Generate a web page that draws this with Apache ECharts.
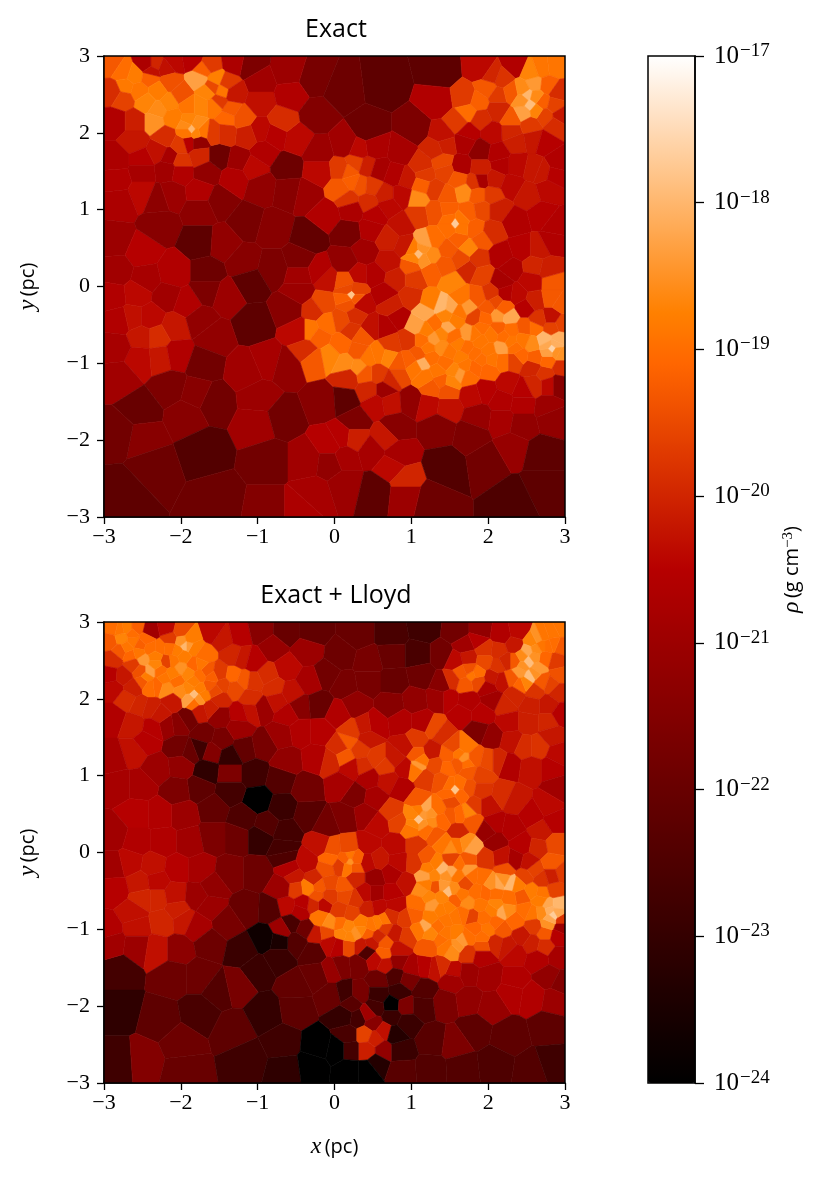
<!DOCTYPE html>
<html>
<head>
<meta charset="utf-8">
<script src="https://cdn.jsdelivr.net/npm/echarts@6/dist/echarts.min.js"></script>
<style>
html,body{margin:0;padding:0;background:#fff}
#chart{width:830px;height:1178px}
</style>
</head>
<body>
<div id="chart"></div>
<script>
// cell centres: x (pc), y (pc), log10 rho
var exactCells=[
[-2.9,2.9,-19.3],[-2.75,2.8,-19.0],[-2.6,2.75,-18.8],[-2.72,2.6,-18.85],[-2.55,2.55,-18.9],[-2.4,2.72,-19.2],[-2.33,2.9,-20.0],[-2.2,2.85,-20.3],[-2.15,2.66,-19.4],[-2.3,2.55,-18.8],[-2.45,2.4,-18.7],[-2.3,2.3,-18.6],[-2.35,2.15,-18.5],[-2.15,2.4,-18.7],[-2.1,2.2,-18.8],[-2.0,2.5,-19.4],[-1.9,2.35,-18.9],[-1.9,2.15,-18.7],[-1.75,2.35,-18.7],[-1.75,2.7,-18.3],[-1.65,2.55,-18.7],[-1.55,2.7,-18.75],[-1.45,2.55,-18.9],[-1.55,2.35,-18.9],[-1.4,2.2,-19.1],[-1.72,2.02,-18.9],[-1.86,2.05,-18.0],
[-2.88,2.53,-19.9],[-2.75,2.45,-19.6],[-2.85,2.15,-20.6],[-2.6,2.15,-20.1],[-2.6,1.9,-20.2],[-2.85,1.65,-20.7],[-2.5,1.65,-20.5],[-2.3,1.75,-20.3],[-2.15,1.68,-20.8],[-2.2,1.95,-19.9],[-2.0,1.85,-19.7],[-2.0,1.62,-19.8],[-1.9,1.88,-20.5],[-1.77,1.88,-21.2],[-1.75,1.7,-20.0],[-2.18,1.53,-20.9],[-2.0,1.5,-20.6],[-2.5,1.5,-20.8],[-2.83,1.4,-20.6],[-1.66,1.49,-21.2],[-1.5,1.7,-21.9],[-1.25,1.65,-21.0],[-1.05,1.55,-20.4],[-0.92,1.75,-20.6],[-0.62,1.55,-21.9],[-0.49,1.92,-20.4],[-0.2,1.75,-21.0],[-0.97,2.03,-20.4],[-1.14,1.97,-20.1],[-0.77,1.97,-20.5],[-1.57,2.0,-19.7],[-1.42,2.0,-19.9],[-1.36,2.3,-19.3],[-1.2,2.2,-19.4],[-1.5,2.4,-19.7],[-1.6,2.6,-19.5],[-1.7,2.82,-19.2],[-2.1,2.93,-20.4],[-1.85,2.97,-20.5],[-1.62,2.88,-19.7],[-1.4,2.64,-19.7],[-2.45,2.9,-20.7],[-2.38,2.8,-20.3],
[-0.27,2.7,-21.7],[-0.6,2.8,-21.0],[-1.1,2.88,-21.6],[-1.3,2.92,-20.7],[-0.97,2.66,-20.9],[-1.32,2.52,-20.2],[-0.97,2.4,-20.3],[-0.68,2.16,-19.9],[-0.57,2.49,-20.6],[-0.23,2.23,-21.5],
[-2.5,1.22,-20.4],[-2.8,1.1,-20.7],[-2.3,1.14,-21.3],[-2.12,1.2,-21.0],[-1.75,1.23,-20.6],[-1.49,1.12,-21.5],[-1.3,1.4,-20.6],[-0.95,1.3,-21.2],[-0.6,1.25,-21.4],[-0.36,1.2,-21.0],[-0.2,1.5,-20.4],[-2.85,0.6,-21.0],[-2.5,0.45,-20.5],[-2.27,0.8,-21.4],[-1.75,1.0,-21.3],[-1.75,0.58,-22.2],[-1.14,0.84,-21.7],[-1.45,0.56,-21.2],[-0.8,0.75,-21.4],[-0.33,0.63,-22.1],[-0.45,0.35,-21.6],[-1.66,0.18,-21.9],[-1.18,0.32,-21.4],[-0.8,0.23,-21.6],[-0.45,0.14,-20.9],[-0.1,0.1,-20.3],[-0.2,0.2,-20.6],[-2.1,0.18,-20.6],[-2.83,0.2,-20.9],[-2.45,0.1,-20.8],[-1.1,0.05,-22.2],[-0.1,0.93,-20.6],
[0.65,2.62,-22.2],[1.39,2.8,-22.2],[0.1,2.55,-21.9],[0.44,2.05,-21.9],[1.05,2.05,-21.6],[1.35,2.4,-20.6],[1.92,2.84,-20.4],[2.35,2.88,-20.6],
[1.7,2.45,-19.7],[1.74,2.27,-19.0],[1.87,2.4,-19.2],[2.0,2.58,-19.3],[2.18,2.7,-19.8],[2.05,2.75,-20.0],[2.13,2.49,-19.7],[2.3,2.53,-19.3],[1.6,2.14,-19.7],[1.9,2.18,-19.9],[2.13,2.29,-20.0],[2.3,2.18,-19.3],[2.5,2.49,-18.0],[2.55,2.36,-17.9],[2.47,2.27,-18.3],[2.6,2.64,-18.4],[2.56,2.79,-18.7],[2.7,2.84,-18.9],[2.87,2.86,-18.9],[2.78,2.62,-19.2],[2.91,2.53,-19.9],[2.7,2.4,-19.2],[2.87,2.36,-19.6],[2.74,2.22,-19.6],[2.95,2.23,-20.2],[2.3,2.01,-20.0],[2.56,2.1,-19.7],[2.87,2.1,-19.9],[2.05,2.0,-20.4],[1.74,2.0,-20.5],[2.35,1.88,-20.1],[2.6,1.92,-20.2],[2.74,1.88,-20.5],[1.9,1.77,-21.3],[1.7,1.88,-20.7],[1.4,1.97,-20.3],[1.65,1.56,-20.7],[2.17,1.58,-20.6],[2.13,1.73,-20.6],[2.37,1.58,-20.4],[2.6,1.53,-20.2],[2.91,1.62,-20.6],[1.44,1.84,-20.1],
[0.18,1.5,-19.3],[0.27,1.62,-19.6],[0.09,1.53,-19.7],[0.22,1.36,-19.2],[0.09,1.27,-19.3],[0.35,1.31,-19.4],[0.48,1.3,-19.7],[0.18,1.14,-19.8],[0.44,1.1,-19.9],[0.66,1.19,-20.1],[0.44,1.57,-20.1],[0.57,1.53,-20.8],[0.87,1.75,-20.8],[0.53,1.8,-20.7],[0.14,1.84,-20.9],[0.31,1.77,-20.4],[0.79,1.45,-20.6],[0.94,1.4,-20.2],
[1.14,1.58,-19.9],[1.4,1.62,-19.5],[1.31,1.79,-20.0],[1.18,1.45,-19.7],[1.44,1.49,-19.6],[1.09,1.14,-18.6],[1.14,1.32,-19.2],[1.31,1.27,-19.7],[1.48,1.19,-19.3],[1.68,1.23,-18.6],[1.61,1.4,-19.3],[1.83,1.36,-19.8],[1.9,1.53,-20.1],[1.9,1.38,-20.8],[1.87,1.19,-19.3],[2.05,1.19,-19.7],[2.09,1.4,-20.2],[2.3,1.32,-20.4],[2.52,1.19,-20.2],[2.78,1.27,-20.4],[2.7,1.49,-20.2],[2.87,1.45,-20.5],[1.09,0.93,-19.7],[1.31,0.97,-19.4],[1.48,1.0,-19.2],[1.57,0.82,-17.7],[1.74,0.97,-19.2],[1.92,1.0,-19.5],[1.83,0.75,-19.2],[2.13,1.0,-20.1],[2.35,0.84,-20.6],[2.7,0.93,-20.5],[2.87,0.8,-20.6],[0.87,1.19,-20.4],[0.7,1.05,-20.4],[0.53,0.93,-20.5],[0.18,0.71,-21.7],[0.22,1.0,-20.7],[0.87,0.8,-20.3],[0.48,0.75,-20.6],[0.4,0.45,-20.9],[0.14,0.32,-21.2],[0.7,0.62,-20.1],[0.92,0.53,-20.2],[1.09,0.42,-17.9],[1.18,0.58,-18.3],[1.0,0.27,-19.3],[1.26,0.41,-18.6],[1.31,0.62,-19.0],[1.48,0.49,-19.3],[1.61,0.62,-19.2],[1.74,0.49,-18.7],[1.92,0.62,-19.3],[2.05,0.71,-19.9],[1.87,0.36,-19.8],[2.17,0.4,-20.6],[2.44,0.49,-20.5],[2.66,0.49,-20.2],[2.83,0.58,-20.6],[2.3,0.23,-20.7],[2.6,0.27,-20.0],[2.83,0.05,-19.3],[2.78,0.23,-20.1],[0.7,0.32,-20.3],[0.31,0.15,-20.4],[0.14,0.06,-19.4],[0.53,0.15,-20.6],[0.79,0.1,-20.1],[1.05,0.1,-19.7],[1.26,0.19,-19.2],[1.53,0.06,-18.7],[1.44,0.27,-19.3],[1.74,0.23,-20],[1.65,0.36,-19.5],[1.92,0.15,-19.6],[2.17,0.06,-20.8],[2.56,0.06,-20.4],
[-2.88,-0.13,-20.6],[-2.57,-0.1,-20.4],[-2.18,-0.13,-20.9],[-1.92,-0.22,-20.6],[-1.66,-0.05,-21.6],[-1.4,-0.13,-21.0],[-1.05,-0.48,-22.2],[-0.58,-0.3,-21.4],[-0.45,-0.07,-21.0],[-0.15,-0.22,-19.5],[-0.27,-0.31,-19.9],[-0.45,-0.57,-20.4],[-0.32,-0.57,-18.9],[-0.1,-0.48,-19.0],[-0.2,-0.66,-19.2],[-0.36,-0.83,-19.9],[-0.06,-0.9,-18.7],[-0.27,-0.94,-19.3],[-2.8,-0.44,-20.6],[-2.62,-0.4,-20.3],[-2.4,-0.4,-20.4],[-2.08,-0.53,-20.2],[-2.31,-0.66,-19.9],[-2.51,-0.66,-20.2],[-2.53,-0.94,-20.4],[-2.27,-0.92,-20.2],[-2.05,-0.88,-20.6],[-2.84,-0.79,-20.8],[-2.8,-1.18,-20.9],[-1.75,-0.44,-21.2],[-1.58,-0.66,-21.2],[-1.71,-1.0,-21.8],[-2.14,-1.31,-21.6],[-2.53,-1.61,-22.0],[-1.58,-1.5,-21.8],[-1.8,-1.4,-21.4],[-1.92,-1.68,-21.4],[-1.14,-1.09,-20.9],[-0.88,-0.98,-20.8],[-0.97,-1.44,-21.0],[-1.0,-1.79,-20.9],[-0.62,-1.05,-21.2],[-0.67,-1.7,-21.8],[-0.14,-1.5,-21.4],[-1.71,-2.13,-22.4],[-2.49,-1.96,-21.4],[-2.8,-1.9,-21.8],[-2.36,-2.35,-21.9],[-2.73,-2.7,-22.2],[-1.53,-2.78,-21.9],[-0.85,-2.26,-21.8],[-0.85,-2.9,-21.5],[-0.36,-2.26,-20.9],[-0.06,-2.05,-20.5],[-0.06,-2.3,-21.2],[-0.27,-2.7,-20.8],[-0.45,-2.9,-20.7],
[0.22,-0.11,-17.8],[0.18,-0.22,-19.4],[0.35,-0.22,-20.4],[0.65,-0.09,-20.6],[0.66,-0.53,-20.6],[0.48,-0.53,-20.3],[0.83,-0.4,-20.6],[0.74,-0.25,-20.1],[1.0,-0.14,-19.9],[0.27,-0.38,-19.9],[0.09,-0.44,-19.5],[0.22,-0.57,-19.8],[0.35,-0.66,-19.3],[0.09,-0.75,-19.1],[0.14,-1.0,-18.6],[0.31,-1.05,-18.6],[0.44,-0.92,-18.9],[0.31,-0.83,-19.3],[0.57,-0.88,-18.9],[0.74,-0.75,-19.7],[0.96,-0.7,-19.8],[0.83,-1.0,-19.3],[0.7,-0.92,-18.7],[0.57,-1.14,-19.7],[0.18,-1.18,-20.0],[0.4,-1.14,-19.3],[0.83,-1.16,-19.5],[0.98,-0.96,-19.2],[0.74,-1.22,-20.0],[0.44,-1.35,-20.0],[0.66,-1.35,-21.0],[0.72,-1.5,-20.3],[0.53,-1.53,-20.4],[0.14,-1.48,-22.2],[1.0,-1.48,-21.2],[1.22,-1.53,-20.4],[1.48,-1.57,-20.3],[1.26,-1.31,-19.3],[1.14,-1.0,-18.1],[1.18,-1.18,-18.9],[1.39,-1.22,-19.2],[1.48,-1.35,-19.4],[1.63,-1.14,-18.4],[1.52,-1.24,-18.7],[1.74,-1.18,-19.0],[1.83,-1.05,-19.1],[2.0,-1.09,-19.1],[2.18,-0.96,-19.0],[2.35,-0.96,-19.6],[2.57,-1.05,-20.0],[2.74,-1.14,-19.8],[2.61,-0.92,-19.2],[2.78,-0.96,-19.1],[2.17,-0.79,-18.3],[2.35,-0.79,-19.0],[2.0,-0.83,-18.9],[1.83,-0.88,-19.0],[1.65,-0.92,-18.8],[1.44,-1.0,-19.0],[1.26,-0.92,-19.0],[1.09,-0.88,-19.3],[1.07,-0.51,-18.3],[1.18,-0.33,-18.2],[1.39,-0.25,-18.0],[1.52,-0.27,-18.2],[1.31,-0.49,-19.0],[1.48,-0.53,-18.2],[1.29,-0.68,-18.4],[1.39,-0.79,-18.6],[1.14,-0.7,-19.0],[1.61,-0.75,-18.8],[1.74,-0.61,-18.4],[1.57,-0.44,-18.8],[1.74,-0.27,-18.4],[1.65,-0.14,-18.9],[1.83,-0.4,-19.6],[1.87,-0.14,-19.3],[1.92,-0.53,-19.0],[2.0,-0.27,-19.3],[2.13,-0.38,-18.4],[2.28,-0.4,-18.2],[2.13,-0.55,-19.2],[2.3,-0.57,-19.0],[2.48,-0.53,-19.3],[2.61,-0.53,-19.0],[2.57,-0.75,-18.6],[2.74,-0.7,-18.0],[2.83,-0.81,-17.6],[2.91,-0.68,-18.1],[2.95,-0.88,-18.5],[2.95,-1.05,-19.9],[2.83,-0.53,-19.6],[2.95,-0.48,-19.6],[2.83,-0.4,-20.3],[2.65,-0.44,-19.8],[2.48,-0.27,-20.5],[2.22,-0.09,-20.6],[2.39,-0.11,-20.4],[2.6,-0.18,-20.1],[2.83,-0.14,-19.3],[2.95,-0.22,-19.3],[2.04,-0.09,-19.8],[2.91,-1.27,-21.4],[2.78,-1.27,-20.4],[2.6,-1.27,-20],[2.44,-1.35,-20.5],[2.26,-1.27,-20.4],[1.96,-1.35,-20.5],[1.79,-1.4,-20.4],[2.18,-1.48,-20.6],[2.44,-1.53,-20.6],[2.78,-1.57,-21.0],[0.27,-1.74,-21.6],[0.79,-1.83,-21.4],[1.35,-1.83,-21.5],[1.87,-1.7,-21.1],[2.18,-1.74,-20.8],[2.44,-1.79,-21.2],[2.83,-1.7,-21.2],[0.09,-1.96,-20.5],[0.27,-1.98,-20.1],[0.66,-1.96,-20.2],[0.48,-2.13,-20.8],[0.83,-2.18,-20.8],[0.14,-2.22,-20.8],[0.74,-2.35,-20.4],[0.92,-2.52,-20.0],[0.14,-2.57,-21.0],[0.53,-2.66,-22.2],[1.44,-2.35,-22.4],[2.0,-2.27,-21.8],[1.79,-1.92,-21.6],[2.31,-2.09,-21.1],[2.7,-2.18,-22.2],[2.7,-2.61,-22.2],[2.35,-2.78,-22.5],[1.26,-2.78,-21.9],[0.92,-2.7,-21.0]
];
// small cells round the densest spots of the top panel
var exactFine=[
[0.17,-0.04,-19.5],[0.28,-0.05,-19.6],[0.28,-0.15,-19.3],[0.16,-0.16,-19.2],
[1.5,0.87,-19.0],[1.64,0.87,-18.9],[1.5,0.76,-19.0],[1.64,0.76,-18.9],
[1.02,0.48,-18.8],[1.16,0.36,-18.5],[1.03,0.37,-18.7],[1.15,0.49,-18.5],
[2.78,-0.86,-18.3],[2.88,-0.75,-18.1],[2.77,-0.76,-18.2],[2.89,-0.85,-18.5],
[-1.8,2.1,-18.6],[-1.92,2.0,-18.9],[-1.92,2.1,-18.6],[-1.8,2.0,-18.7],
[2.45,2.43,-18.5],[2.62,2.46,-18.6],[2.62,2.3,-18.7],[2.45,2.56,-18.6],
[1.25,-0.2,-18.8],[1.45,-0.38,-18.7],[1.62,-0.33,-18.9],[1.4,-0.62,-18.7],[1.55,-0.65,-19.0],[1.2,-0.57,-18.8],[1.22,-0.8,-18.9],[1.5,-0.85,-18.9],[1.72,-0.8,-19.0],[1.9,-0.72,-18.9],[2.05,-0.62,-18.9],[1.82,-0.62,-18.9],[1.95,-0.42,-19.1],[2.2,-0.65,-19.0],[2.3,-0.72,-18.9],[2.45,-0.7,-18.9],[2.42,-0.9,-19.1],[2.05,-0.95,-18.9],[1.7,-1.02,-18.9],[1.35,-1.1,-18.9],[1.55,-1.1,-18.7],[1.05,-1.05,-18.9],[1.9,-0.95,-19.0],[2.1,-0.2,-19.5],[2.2,-0.28,-19.2]
];
var lloydCells=[
[-2.88,2.92,-19.0],[-2.7,2.92,-18.8],[-2.57,2.92,-19.2],[-2.92,2.75,-19.3],[-2.77,2.79,-18.7],[-2.62,2.75,-18.9],[-2.79,2.62,-19.3],[-2.66,2.57,-19.1],[-2.49,2.51,-18.4],[-2.4,2.36,-18.3],[-2.53,2.7,-19.2],[-2.4,2.66,-19.0],[-2.88,2.51,-19.9],[-2.62,2.44,-19.7],[-2.53,2.36,-19.4],[-2.49,2.23,-19.3],[-2.27,2.66,-19.0],[-2.18,2.49,-19.6],[-2.27,2.36,-19.0],[-2.31,2.18,-19.1],[-2.18,2.14,-18.6],[-2.14,2.79,-19.7],[-2.4,2.88,-20.9],[-2.18,2.92,-20.4],[-2,2.88,-19.5],[-1.94,2.7,-18.0],[-2.05,2.62,-18.8],[-1.83,2.66,-18.8],[-1.7,2.57,-19.0],[-2.0,2.4,-18.5],[-1.83,2.44,-19.1],[-1.66,2.36,-19.3],[-2.05,2.23,-19.0],[-1.83,2.23,-18.8],[-1.83,2.05,-17.9],[-2.0,2.1,-18.6],[-1.7,2.05,-18.8],[-1.83,1.95,-19.0],[-1.62,2.18,-19.3],[-1.49,2.33,-19.7],[-1.32,2.3,-19.1],[-1.18,2.25,-19.3],[-1.3,2.14,-19.5],[-1.45,2.18,-19.6],[-1.5,2.0,-20],[-1.32,2.57,-20.0],[-1.45,2.79,-20.2],[-1.58,2.88,-20.4],[-1.23,2.84,-20.5],[-1.2,2.53,-20.2],[-0.97,2.9,-21.4],[-0.62,2.88,-22.0],[-0.28,2.88,-22.1],[-0.8,2.66,-21.1],[-0.36,2.62,-21.0],[-0.62,2.4,-20.4],[-0.88,2.31,-19.9],[-1.05,2.23,-19.8],[-1.09,2.0,-19.9],[-0.79,2.14,-19.9],[-0.56,2.08,-20.3],[-1.05,2.49,-20.5],[-0.1,2.31,-21.8],[-0.33,2.23,-20.8],[-0.45,1.9,-21.4],[-0.2,1.92,-22],[-0.93,1.88,-21.0],[-0.75,1.97,-20.3],[-1.1,1.84,-20.3],[-1.23,1.8,-20.5],[-0.62,1.8,-20.6],[-1.5,1.77,-21.2],[-1.62,1.88,-20.1],[-1.75,1.84,-20.2],[-1.92,1.75,-21.8],[-2.03,1.68,-21.4],[-2.18,1.66,-21.1],[-2.27,1.79,-20.2],[-2.53,1.92,-20.0],[-2.7,2.0,-19.9],[-2.4,1.88,-20.1],[-2.88,2.14,-20.4],[-2.62,2.14,-20.1],[-2.92,2.31,-20.5],[-2.75,2.3,-20.2],[-2.1,1.97,-20.2],[-2.88,1.75,-20.6],[-2.62,1.66,-20.2],[-2.36,1.62,-20.5],[-1.7,1.53,-21.8],[-1.47,1.47,-21.7],[-1.24,1.62,-21.0],[-1.18,1.35,-22.1],[-0.92,1.4,-21.7],[-0.7,1.53,-21.0],[-0.44,1.57,-20.6],[-0.18,1.57,-20.5],[-1.75,1.36,-22.8],[-2.03,1.36,-21.8],[-1.88,1.31,-22.0],[-1.6,1.31,-21.5],[-1.36,1.25,-23.0],[-1.66,1.06,-23.1],[-1.36,1.03,-21.6],[-1.05,1.03,-22.8],[-0.7,0.95,-22.4],[-1.0,0.68,-24.0],[-0.68,0.58,-22.9],[-1.36,0.8,-22.7],[-1.75,0.84,-22.2],[-1.58,0.58,-22.1],[-1.18,0.45,-22.5],[-1.27,0.2,-21.9],[-0.97,0.2,-23],[-0.88,0.36,-22.4],[-0.64,0.27,-22.7],[-0.66,0.05,-22.7],[-0.34,0.49,-22.3],[-0.36,0.84,-21.8],[-0.62,1.19,-21.2],[-0.23,1.23,-20.6],[-0.06,1.19,-20],[-0.1,0.36,-21.8],[-0.18,0.1,-20.3],[-0.03,0.05,-19.4],[-2.62,1.31,-20.3],[-2.45,1.45,-20.5],[-2.88,1.23,-20.8],[-2.31,1.1,-21],[-2.0,1.14,-21.2],[-2.05,0.8,-21.6],[-2.8,0.88,-20.8],[-2.53,0.88,-20.8],[-1.97,0.5,-21],[-2.57,0.5,-20.5],[-2.27,0.5,-20.6],[-2.88,0.23,-20.9],[-2.57,0.14,-20.6],[-2.23,0.14,-20.6],[-1.88,0.14,-20.9],[-1.58,0.2,-21.6],
[0.3,2.84,-22.0],[0.74,2.84,-22.6],[1.17,2.92,-22.8],[1.6,2.88,-21.8],[1.9,2.88,-21.2],[2.17,2.84,-20.6],[2.4,2.88,-20.4],[0.09,2.57,-21.9],[0.44,2.49,-21.7],[0.75,2.57,-22.0],[1.09,2.57,-22.6],[1.4,2.57,-21.8],[0.13,2.18,-21.7],[0.44,2.23,-21.7],[0.77,2.23,-22.0],[1.14,2.31,-21.9],[1.4,2.2,-21.4],[1.7,2.7,-20.9],[1.87,2.77,-20.5],[1.74,2.53,-20.2],[1.57,2.49,-20.4],[1.96,2.64,-19.8],[2.13,2.62,-19.9],[1.96,2.49,-19.5],[1.79,2.31,-18.9],[1.65,2.34,-19.3],[1.87,2.23,-19.5],[1.7,2.2,-19.3],[1.53,2.25,-19.9],[2.05,2.27,-20.2],[2.13,2.44,-19.8],[2.0,2.14,-20.7],[2.35,2.7,-20.2],[2.57,2.75,-18.7],[2.65,2.79,-18.5],[2.83,2.86,-18.9],[2.95,2.92,-18.9],[2.78,2.7,-19.0],[2.95,2.68,-19.3],[2.52,2.62,-18.2],[2.52,2.49,-17.9],[2.55,2.3,-17.9],[2.41,2.36,-18.4],[2.65,2.4,-18.4],[2.74,2.53,-19.1],[2.35,2.49,-19.3],[2.3,2.27,-19.3],[2.43,2.18,-19.1],[2.7,2.23,-19.3],[2.89,2.49,-19.7],[2.93,2.31,-19.4],[2.83,2.18,-19.6],[2.22,2.49,-20],[2.17,2.23,-20.3],[2.6,2.1,-19.8],[2.35,2.05,-20.0],[2.91,2.1,-20],[2.78,1.92,-20.2],[2.22,1.92,-20],[2.05,2.0,-20.9],[2.56,1.92,-20.1],[1.74,1.97,-20.6],[1.48,2.0,-20.5],[1.92,1.8,-20.5],[1.65,1.8,-20.5],[1.35,2.0,-21.0],[1.05,1.97,-21.2],[0.74,1.92,-21.4],[0.27,1.92,-21.2],[0.05,1.8,-20.6],[0.53,1.66,-20.5],[0.87,1.7,-20.6],[1.14,1.7,-20.6],[1.87,1.58,-21.6],[2.05,1.51,-21.2],[2.27,1.7,-20.4],[2.52,1.7,-20.1],[2.78,1.7,-20.0],[2.95,1.8,-20.5],[2.3,1.45,-20.3],[2.48,1.37,-19.9],[2.65,1.37,-19.8],[2.83,1.53,-20.2],[2.91,1.27,-20.4],[2.27,1.14,-20.6],[2.57,1.1,-20.3],[2.83,1.1,-20.5],
[0.18,1.45,-19.3],[0.22,1.58,-19.7],[0.4,1.64,-20.2],[0.07,1.38,-19.9],[0.14,1.25,-19.3],[0.33,1.34,-19.7],[0.44,1.49,-20.2],[0.55,1.23,-19.7],[0.37,1.12,-19.9],[0.66,1.12,-19.7],[0.22,1.1,-20.4],[0.79,1.23,-20.2],[0.92,1.38,-20.3],[1.07,1.47,-19.7],[1.31,1.62,-19.5],[1.4,1.55,-19.9],[1.27,1.31,-20.2],[1.09,1.14,-18.4],[1.07,1.27,-19.3],[1.48,1.27,-19.2],[1.68,1.23,-18.5],[1.7,1.38,-18.9],[1.55,1.38,-19.5],[1.83,1.23,-19.3],[2.0,1.19,-19.5],[2.13,1.19,-20],[1.31,1.14,-19.5],[1.48,1.1,-19.1],[1.74,1.06,-19.3],[1.92,1.0,-19.6],[1.18,0.97,-19.7],[1.4,0.93,-19.4],[1.57,0.82,-17.8],[1.74,0.84,-19.4],[1.92,0.8,-19.8],[0.92,1.1,-20.4],[0.7,0.93,-20.3],[0.87,0.84,-20.6],[0.44,0.97,-20.7],[0.27,0.75,-21.6],[0.09,0.88,-20.8],[0.53,0.71,-20.8],[0.14,0.45,-21.6],[0.4,0.49,-21.0],[0.75,0.53,-19.7],[0.57,0.36,-20.4],[0.83,0.4,-19.6],[1.09,0.43,-17.8],[1.18,0.58,-18.2],[1.0,0.3,-18.9],[1.26,0.4,-18.6],[1.35,0.58,-19],[1.09,0.67,-19.3],[1.52,0.67,-19.5],[1.52,0.49,-19.3],[1.74,0.53,-18.7],[1.83,0.62,-19.7],[1.79,0.4,-19.3],[2,0.62,-20.3],[2.18,0.75,-19.9],[2.35,0.67,-20.2],[2.09,0.36,-20.6],[2,0.28,-21.1],[2.09,0.15,-21.1],[2.57,0.49,-20.5],[2.91,0.84,-20.9],[2.78,0.62,-20.4],[2.69,0.28,-20.2],[2.87,0.4,-20.5],[2.87,0.1,-19.5],[2.3,0.32,-20.6],[2.44,0.1,-20.5],[2.65,0.06,-20],[1.52,0.06,-18.6],[1.78,0.06,-18.3],[1.31,0.23,-19.3],[1.61,0.27,-20],[1.05,0.1,-19.8],[0.79,0.1,-20.4],[0.18,0.06,-19.5],[0.44,0.1,-20.4],
[-2.88,-0.18,-20.9],[-2.66,-0.13,-20.4],[-2.36,-0.18,-20.3],[-2.05,-0.22,-20.5],[-1.75,-0.22,-20.8],[-1.36,-0.27,-21.6],[-1.0,-0.27,-21.9],[-0.64,-0.05,-22.5],[-0.58,-0.22,-20.6],[-0.36,-0.13,-20.4],[-0.06,-0.09,-19.1],[-0.1,-0.22,-19.4],[-0.27,-0.35,-20],[-0.53,-0.31,-20.2],[-0.5,-0.48,-19.7],[-0.34,-0.46,-18.8],[-0.2,-0.44,-19.3],[-0.06,-0.4,-19.5],[-0.23,-0.57,-19.4],[-0.14,-0.68,-20.4],[-0.06,-0.57,-19.7],[-0.28,-0.68,-20],[-0.41,-0.66,-20.5],[-0.62,-0.7,-20.4],[-0.69,-0.46,-21.0],[-0.19,-0.85,-18.9],[-0.06,-0.92,-18.6],[-0.25,-1.07,-20.2],[-0.1,-1.05,-19.5],[-0.45,-0.77,-20.6],[-0.56,-0.92,-22.6],[-0.38,-1,-21.9],[-0.69,-1.0,-21],[-0.49,-1.16,-22.4],[-0.27,-1.29,-22.3],[-0.06,-1.18,-20.4],[-2.53,-0.4,-20.2],[-2.86,-0.48,-20.5],[-2.49,-0.59,-20],[-2.31,-0.59,-20],[-2.08,-0.55,-20.3],[-2.31,-0.37,-20.4],[-2.62,-0.79,-20.3],[-2.57,-0.96,-20.3],[-2.23,-0.9,-20.0],[-1.97,-0.88,-20.2],[-2.05,-0.75,-20.1],[-1.79,-0.57,-21],[-1.62,-0.7,-21],[-1.58,-0.44,-21.2],[-1.14,-0.74,-22],[-0.83,-0.75,-22.4],[-1.4,-0.92,-21.7],[-1.79,-0.96,-20.8],[-2.95,-1,-20.6],[-2.57,-1.22,-21],[-2.31,-1.26,-20.3],[-2.03,-1.26,-21.3],[-1.62,-1.18,-21.9],[-1.2,-1.27,-22.9],[-0.9,-1.12,-23.7],[-0.73,-1.15,-23.5],[-1.0,-1.53,-22.9],[-0.73,-1.37,-22.9],[-2.8,-1.53,-22.7],[-2.9,-1.18,-20.9],[-2.1,-1.6,-21.9],[-1.75,-1.6,-21.9],[-1.5,-1.79,-22.4],[-1.27,-1.74,-21.7],[-0.51,-1.74,-22.1],[-0.23,-1.6,-22],[-0.03,-1.53,-21.1],[-2.8,-2.05,-23.1],[-2.27,-2.18,-22.2],[-1.75,-2.09,-22.6],[-1.31,-2.31,-22.2],[-0.9,-2.09,-23],[-0.5,-2.03,-22.2],[-0.03,-1.87,-22],[-2.8,-2.72,-22.8],[-2.49,-2.7,-21.5],[-2.0,-2.48,-21.9],[-1.96,-2.83,-22],[-1.14,-2.7,-22.8],[-0.68,-2.48,-22.8],[-0.64,-2.83,-23.1],[-0.2,-2.52,-24],[-0.28,-2.78,-24],
[0.2,-0.11,-18.5],[0.07,-0.18,-19.7],[0.27,-0.2,-19.3],[0.44,-0.13,-20.4],[0.12,-0.44,-19.3],[0.27,-0.33,-20],[0.53,-0.33,-21.1],[0.74,-0.27,-20.7],[0.83,-0.13,-20.4],[0.53,-0.53,-20.9],[0.4,-0.53,-20.4],[0.75,-0.53,-20.5],[0.57,-0.09,-20.2],[0.94,-0.4,-20.3],[1.05,-0.14,-19.8],[1.2,-0.07,-19.3],[0.27,-0.61,-19.8],[0.14,-0.57,-19.5],[0.07,-0.75,-19.7],[0.22,-0.79,-19.6],[0.44,-0.74,-20.1],[0.57,-0.72,-20.4],[0.79,-0.68,-20.4],[0.07,-0.94,-19.0],[0.1,-1.05,-18.7],[0.27,-1.05,-18.5],[0.35,-0.92,-18.8],[0.57,-0.92,-18.8],[0.44,-1.05,-19.2],[0.74,-0.83,-19.9],[0.66,-0.98,-19.7],[0.66,-1.18,-19.3],[0.57,-1.09,-20],[0.79,-1.05,-20.2],[0.92,-0.87,-19.7],[0.94,-1.09,-19.7],[0.05,-1.22,-20.5],[0.18,-1.22,-19.5],[0.35,-1.22,-20.2],[0.48,-1.18,-20.2],[0.64,-1.31,-19.2],[0.83,-1.27,-20.3],[0.42,-1.29,-22.5],[0.31,-1.46,-21.7],[0.53,-1.4,-20.4],[0.66,-1.46,-20.3],[0.83,-1.42,-21.2],[0.09,-1.48,-21.6],[1.0,-1.5,-20.8],[1.18,-1.48,-20.5],[1.31,-1.5,-20.3],[1.55,-1.55,-20.4],[1.39,-1.48,-19.9],
[1.18,-0.31,-18.3],[1.14,-0.5,-18.6],[1.31,-0.44,-19.4],[1.4,-0.22,-18.0],[1.53,-0.25,-18.2],[1.31,-0.14,-18.8],[1.48,-0.5,-17.9],[1.27,-0.68,-18.4],[1.09,-0.66,-19],[1.39,-0.75,-18.8],[1.57,-0.61,-19.2],[1.74,-0.66,-18.6],[1.7,-0.4,-19.5],[1.74,-0.22,-18.4],[1.92,-0.31,-19],[1.96,-0.53,-19.1],[2.13,-0.4,-18.2],[2.3,-0.4,-18.0],[2.22,-0.22,-19.4],[2.44,-0.57,-19.3],[2.57,-0.5,-18.8],[2.18,-0.77,-18.2],[2.05,-0.75,-18.8],[1.79,-0.83,-19.6],[1.57,-0.83,-18.9],[1.18,-0.96,-18.2],[1.05,-0.83,-19.2],[1.35,-0.96,-19.0],[1.57,-1.05,-18.8],[1.66,-1.14,-18.4],[1.53,-1.27,-18.6],[1.39,-1.14,-19.0],[1.22,-1.22,-19.3],[1.83,-1.0,-19.1],[2.0,-1.0,-18.9],[2.18,-1.0,-19.3],[2.35,-0.88,-19.1],[2.57,-0.79,-18.9],[2.44,-1.09,-20.2],[2.74,-1.05,-19.3],[2.6,-0.96,-19.7],[2.78,-0.68,-18.2],[2.85,-0.81,-17.7],[2.91,-0.68,-18.0],[2.78,-0.92,-18.5],[2.96,-0.88,-19.8],[2.96,-0.98,-21],[2.7,-0.53,-18.9],[2.87,-0.48,-19.6],[2.6,-0.22,-19.6],[2.83,-0.13,-19.3],[2.96,-0.27,-19.7],[2.7,-0.35,-19.8],[2.83,-0.31,-20.1],[2.48,-0.31,-19.6],[2.35,-0.09,-20.8],[2.18,-0.07,-20.3],[2.53,-0.13,-20.3],[1.96,-0.09,-19.8],[1.74,-0.09,-19.3],[1.53,-0.09,-19.6],[2.09,-1.18,-20],[1.92,-1.22,-19.4],[1.74,-1.31,-19.8],[2.26,-1.22,-20.2],[2.57,-1.18,-20.1],[2.74,-1.22,-19.9],[2.91,-1.09,-20.5],[2.91,-1.35,-20.8],[2.35,-1.31,-20.4],[1.92,-1.35,-20.6],[2.65,-1.39,-20.6],[1.74,-1.57,-21],[2.0,-1.61,-20.9],[2.35,-1.66,-20.6],[2.78,-1.61,-21.2],[2.96,-1.7,-21.5],[1.53,-1.66,-20.9],
[0.14,-1.83,-22.8],[0.33,-1.83,-21.7],[0.57,-1.66,-21.9],[0.79,-1.61,-22.5],[0.96,-1.66,-21.7],[0.57,-1.85,-22.9],[0.85,-1.81,-22.9],[1.16,-1.79,-22.4],[0.75,-1.99,-24],[0.92,-2.0,-21.6],[0.53,-2.02,-22.7],[1.44,-1.96,-21.6],[1.14,-2,-22.5],[1.74,-1.92,-21.2],[2.05,-2.0,-21.1],[2.31,-1.83,-20.6],[2.57,-1.87,-20.6],[2.87,-1.92,-21.0],[0.12,-2.13,-23],[0.31,-2.16,-22.7],[0.22,-1.96,-22.3],[0.44,-2.1,-20.9],[0.5,-2.22,-21.4],[0.75,-2.13,-22.9],[0.94,-2.22,-22.9],[1.81,-2.31,-22.2],[1.27,-2.44,-22.3],[2.27,-2.39,-22.2],[2.79,-2.27,-22.2],[0.18,-2.37,-22.6],[0.4,-2.37,-19.6],[0.53,-2.42,-20.1],[0.64,-2.33,-20.3],[0.42,-2.57,-20.1],[0.64,-2.57,-21.2],[0.2,-2.57,-22.7],[0.85,-2.57,-22.9],[0.79,-2.37,-23.3],[0.55,-2.74,-23.3],[1.57,-2.48,-21.6],[0.87,-2.85,-22.3],[1.25,-2.83,-22.4],[1.66,-2.81,-22.4],[2.09,-2.76,-22.5],[2.57,-2.83,-22.4],[2.83,-2.74,-22.8],[0.18,-2.83,-24],[0.44,-2.83,-24],[0.03,-2.57,-24]
];
// small cells in the bright clumps of the bottom panel
var lloydFine=[
[-2.8,2.9,-18.9],[-2.63,2.85,-19.0],[-2.7,2.67,-18.9],[-2.55,2.6,-18.9],[-2.45,2.78,-19.1],[-2.33,2.55,-18.8],[-2.33,2.45,-18.7],[-2.45,2.28,-18.8],[-2.4,2.17,-19.0],[-2.22,2.27,-18.9],[-2.1,2.33,-18.8],[-2.1,2.5,-18.9],[-2.15,2.65,-19.0],[-1.97,2.55,-18.8],[-1.75,2.45,-18.9],[-1.9,2.33,-18.7],[-1.75,2.3,-19.0],[-1.9,2.13,-18.7],[-1.75,2.13,-18.8],[-1.88,2.0,-18.3],[-1.77,2.0,-18.5],[-1.9,2.7,-18.4],[-1.98,2.75,-18.5],[-1.88,2.78,-18.8],[-1.6,2.28,-19.2],[-1.55,2.1,-19.5],
[2.45,2.55,-18.6],[2.6,2.55,-18.5],[2.45,2.43,-18.5],[2.6,2.33,-18.5],[2.48,2.2,-18.7],[2.62,2.65,-18.6],[2.7,2.7,-18.9],[2.85,2.72,-19.0],[2.72,2.82,-18.9],[1.85,2.33,-19.0],[1.75,2.38,-19.4],
[1.12,1.2,-18.9],[1.05,1.08,-18.9],[1.62,1.28,-18.9],[1.72,1.15,-19.0],[1.6,1.15,-19.3],[1.5,0.88,-19.0],[1.63,0.88,-19.0],[1.5,0.76,-19.1],[1.64,0.76,-19.1],[1.03,0.49,-18.7],[1.16,0.36,-18.5],[1.03,0.37,-18.7],[1.16,0.5,-18.4],[1.25,0.5,-18.5],[1.1,0.55,-18.8],[1.2,0.3,-19.0],[1.4,0.42,-19.1],[1.62,0.5,-19.1],[1.42,0.12,-18.9],[1.6,0.1,-18.9],[1.7,0.12,-18.6],
[1.22,-0.2,-18.8],[1.3,-0.3,-18.7],[1.45,-0.3,-18.5],[1.6,-0.3,-18.9],[1.62,-0.15,-19.0],[1.2,-0.42,-18.8],[1.42,-0.43,-18.4],[1.55,-0.48,-18.6],[1.4,-0.58,-18.7],[1.22,-0.58,-18.7],[1.65,-0.55,-18.9],[1.85,-0.52,-19.0],[1.8,-0.3,-19.0],[2.05,-0.4,-18.5],[2.2,-0.35,-18.5],[2.38,-0.42,-18.8],[2.1,-0.55,-19.0],[2.27,-0.6,-19.0],[1.9,-0.68,-18.9],[2.1,-0.68,-18.7],[2.25,-0.75,-18.6],[1.95,-0.85,-19.0],[1.68,-0.8,-19.0],[1.48,-0.72,-18.8],[1.25,-0.85,-18.8],[1.45,-0.88,-18.9],[1.1,-1.0,-18.9],[1.25,-1.05,-18.7],[1.45,-1.05,-18.9],[1.6,-1.2,-18.5],[1.45,-1.22,-18.9],[1.75,-1.1,-19.0],[1.92,-1.1,-19.0],[2.1,-0.92,-19.1],[2.48,-0.75,-19.0],[2.7,-0.78,-18.6],[2.8,-0.75,-18.1],[2.9,-0.78,-18.2],[2.8,-0.87,-18.2],[2.68,-0.62,-18.8],[0.17,-0.98,-18.7],[0.2,-1.08,-18.7],[0.35,-1.0,-18.7],[0.48,-0.95,-18.9],[0.65,-0.88,-18.9],[0.2,-0.05,-18.9],[0.15,-0.08,-19.2],[0.27,-0.08,-19.2],[0.17,-0.2,-18.9]
];
var rhoExponents=[-24,-23,-22,-21,-20,-19,-18,-17];

// gist_heat
var gistHeat=[];
for(let i=0;i<=20;i++){
	let t=i/20;
	let c=(v)=>Math.round(Math.min(1,Math.max(0,v))*255);
	gistHeat.push("rgb("+c(t/0.7)+","+c(2*t-1)+","+c(4*t-3)+")");
}

// voronoi cell of every site, clipped to the box
function voronoi(cells){
	return cells.map((p)=>{
		let poly=[[-3,-3],[3,-3],[3,3],[-3,3]];
		cells.forEach((q)=>{
			if(q===p||(q[0]==p[0]&&q[1]==p[1]))return;
			let dx=q[0]-p[0],dy=q[1]-p[1];
			let mx=(q[0]+p[0])/2,my=(q[1]+p[1])/2;
			let out=[];
			for(let i=0;i<poly.length;i++){
				let a=poly[i],b=poly[(i+1)%poly.length];
				let da=(a[0]-mx)*dx+(a[1]-my)*dy;
				let db=(b[0]-mx)*dx+(b[1]-my)*dy;
				if(da<=0)out.push(a);
				if((da<0&&db>0)||(da>0&&db<0)){
					let s=da/(da-db);
					out.push([a[0]+s*(b[0]-a[0]),a[1]+s*(b[1]-a[1])]);
				}
			}
			poly=out;
		});
		return poly;
	});
}

function cellSeries(cells,gridIndex){
	let polys=voronoi(cells);
	return {
		type:"custom",
		coordinateSystem:"cartesian2d",
		xAxisIndex:gridIndex,
		yAxisIndex:gridIndex,
		data:cells,
		encode:{x:0,y:1},
		clip:true,
		silent:true,
		animation:false,
		progressive:0,
		renderItem:function(params,api){
			let color=api.visual("color");
			return {
				type:"polygon",
				shape:{points:polys[params.dataIndex].map((v)=>api.coord(v))},
				style:{fill:color,stroke:color,lineWidth:0.6}
			};
		}
	};
}

var serif="'Liberation Serif','DejaVu Serif',serif";
var sans="'Open Sans',Lato,sans-serif";
var tickFormat=(v)=>String(v).replace("-","\u2212");
var pcRich={
	i:{fontFamily:serif,fontStyle:"italic",fontSize:24,color:"#000"},
	n:{fontFamily:sans,fontSize:20,color:"#000"}
};

function panelX(gridIndex,name){
	return {
		type:"value",gridIndex:gridIndex,min:-3,max:3,interval:1,
		axisLine:{onZero:false,lineStyle:{color:"#000",width:1.5}},
		axisTick:{length:7,lineStyle:{color:"#000",width:1.3}},
		axisLabel:{fontFamily:serif,fontSize:22,color:"#000",margin:9,formatter:tickFormat},
		splitLine:{show:false},
		name:name,nameLocation:"middle",nameGap:52,
		nameTextStyle:{rich:pcRich}
	};
}
function panelY(gridIndex){
	return {
		type:"value",gridIndex:gridIndex,min:-3,max:3,interval:1,
		axisLine:{onZero:false,lineStyle:{color:"#000",width:1.5}},
		axisTick:{length:7,lineStyle:{color:"#000",width:1.3}},
		axisLabel:{fontFamily:serif,fontSize:22,color:"#000",margin:14,formatter:tickFormat},
		splitLine:{show:false},
		name:"{i|y} {n|(pc)}",nameLocation:"middle",nameGap:64,
		nameTextStyle:{rich:pcRich}
	};
}

var chart=echarts.init(document.getElementById("chart"),null,{renderer:"canvas"});
chart.setOption({
	animation:false,
	backgroundColor:"#fff",
	title:[
		{text:"Exact",left:331,top:12,textAlign:"center",textStyle:{fontFamily:sans,fontWeight:"normal",fontSize:25,color:"#000"}},
		{text:"Exact + Lloyd",left:331,top:578,textAlign:"center",textStyle:{fontFamily:sans,fontWeight:"normal",fontSize:25,color:"#000"}}
	],
	grid:[
		{left:104,top:56,width:461,height:461,show:true,borderColor:"#000",borderWidth:1.5,z:3},
		{left:104,top:622,width:461,height:461,show:true,borderColor:"#000",borderWidth:1.5,z:3},
		{left:648,top:56,width:47,height:1027,show:true,borderColor:"#000",borderWidth:1.5,backgroundColor:"transparent",z:5}
	],
	xAxis:[
		panelX(0,""),
		panelX(1,"{i|x} {n|(pc)}"),
		{type:"value",gridIndex:2,min:0,max:1,show:false}
	],
	yAxis:[
		panelY(0),
		panelY(1),
		{
			type:"value",gridIndex:2,min:rhoExponents[0],max:rhoExponents[7],interval:1,position:"right",z:6,
			axisLine:{show:true,onZero:false,lineStyle:{color:"#000",width:1.5}},
			axisTick:{show:true,length:9,lineStyle:{color:"#000",width:1.3}},
			splitLine:{show:false},
			axisLabel:{
				margin:19,
				formatter:(v)=>"{b|10}{s|\u2212"+Math.abs(v)+"}",
				rich:{
					b:{fontFamily:serif,fontSize:25,color:"#000"},
					s:{fontFamily:serif,fontSize:19,color:"#000",verticalAlign:"bottom",padding:[0,0,10,1]}
				}
			},
			name:"{i|\u03c1} {n|(g cm}{u|\u22123}{n|)}",nameLocation:"middle",nameGap:85,nameRotate:90,
			nameTextStyle:{rich:{
				i:{fontFamily:serif,fontStyle:"italic",fontSize:24,color:"#000"},
				n:{fontFamily:sans,fontSize:20,color:"#000"},
				u:{fontFamily:serif,fontSize:15,color:"#000",verticalAlign:"bottom",padding:[0,0,8,0]}
			}}
		}
	],
	visualMap:{
		type:"continuous",
		min:rhoExponents[0],max:rhoExponents[7],
		dimension:2,
		seriesIndex:[0,1],
		left:648,top:56,padding:0,
		itemWidth:47,itemHeight:1027,
		calculable:false,hoverLink:false,
		text:null,showLabel:false,
		inRange:{color:gistHeat},
		z:1
	},
	series:[cellSeries(exactCells.concat(exactFine),0),cellSeries(lloydCells.concat(lloydFine),1)]
});
</script>
</body>
</html>
